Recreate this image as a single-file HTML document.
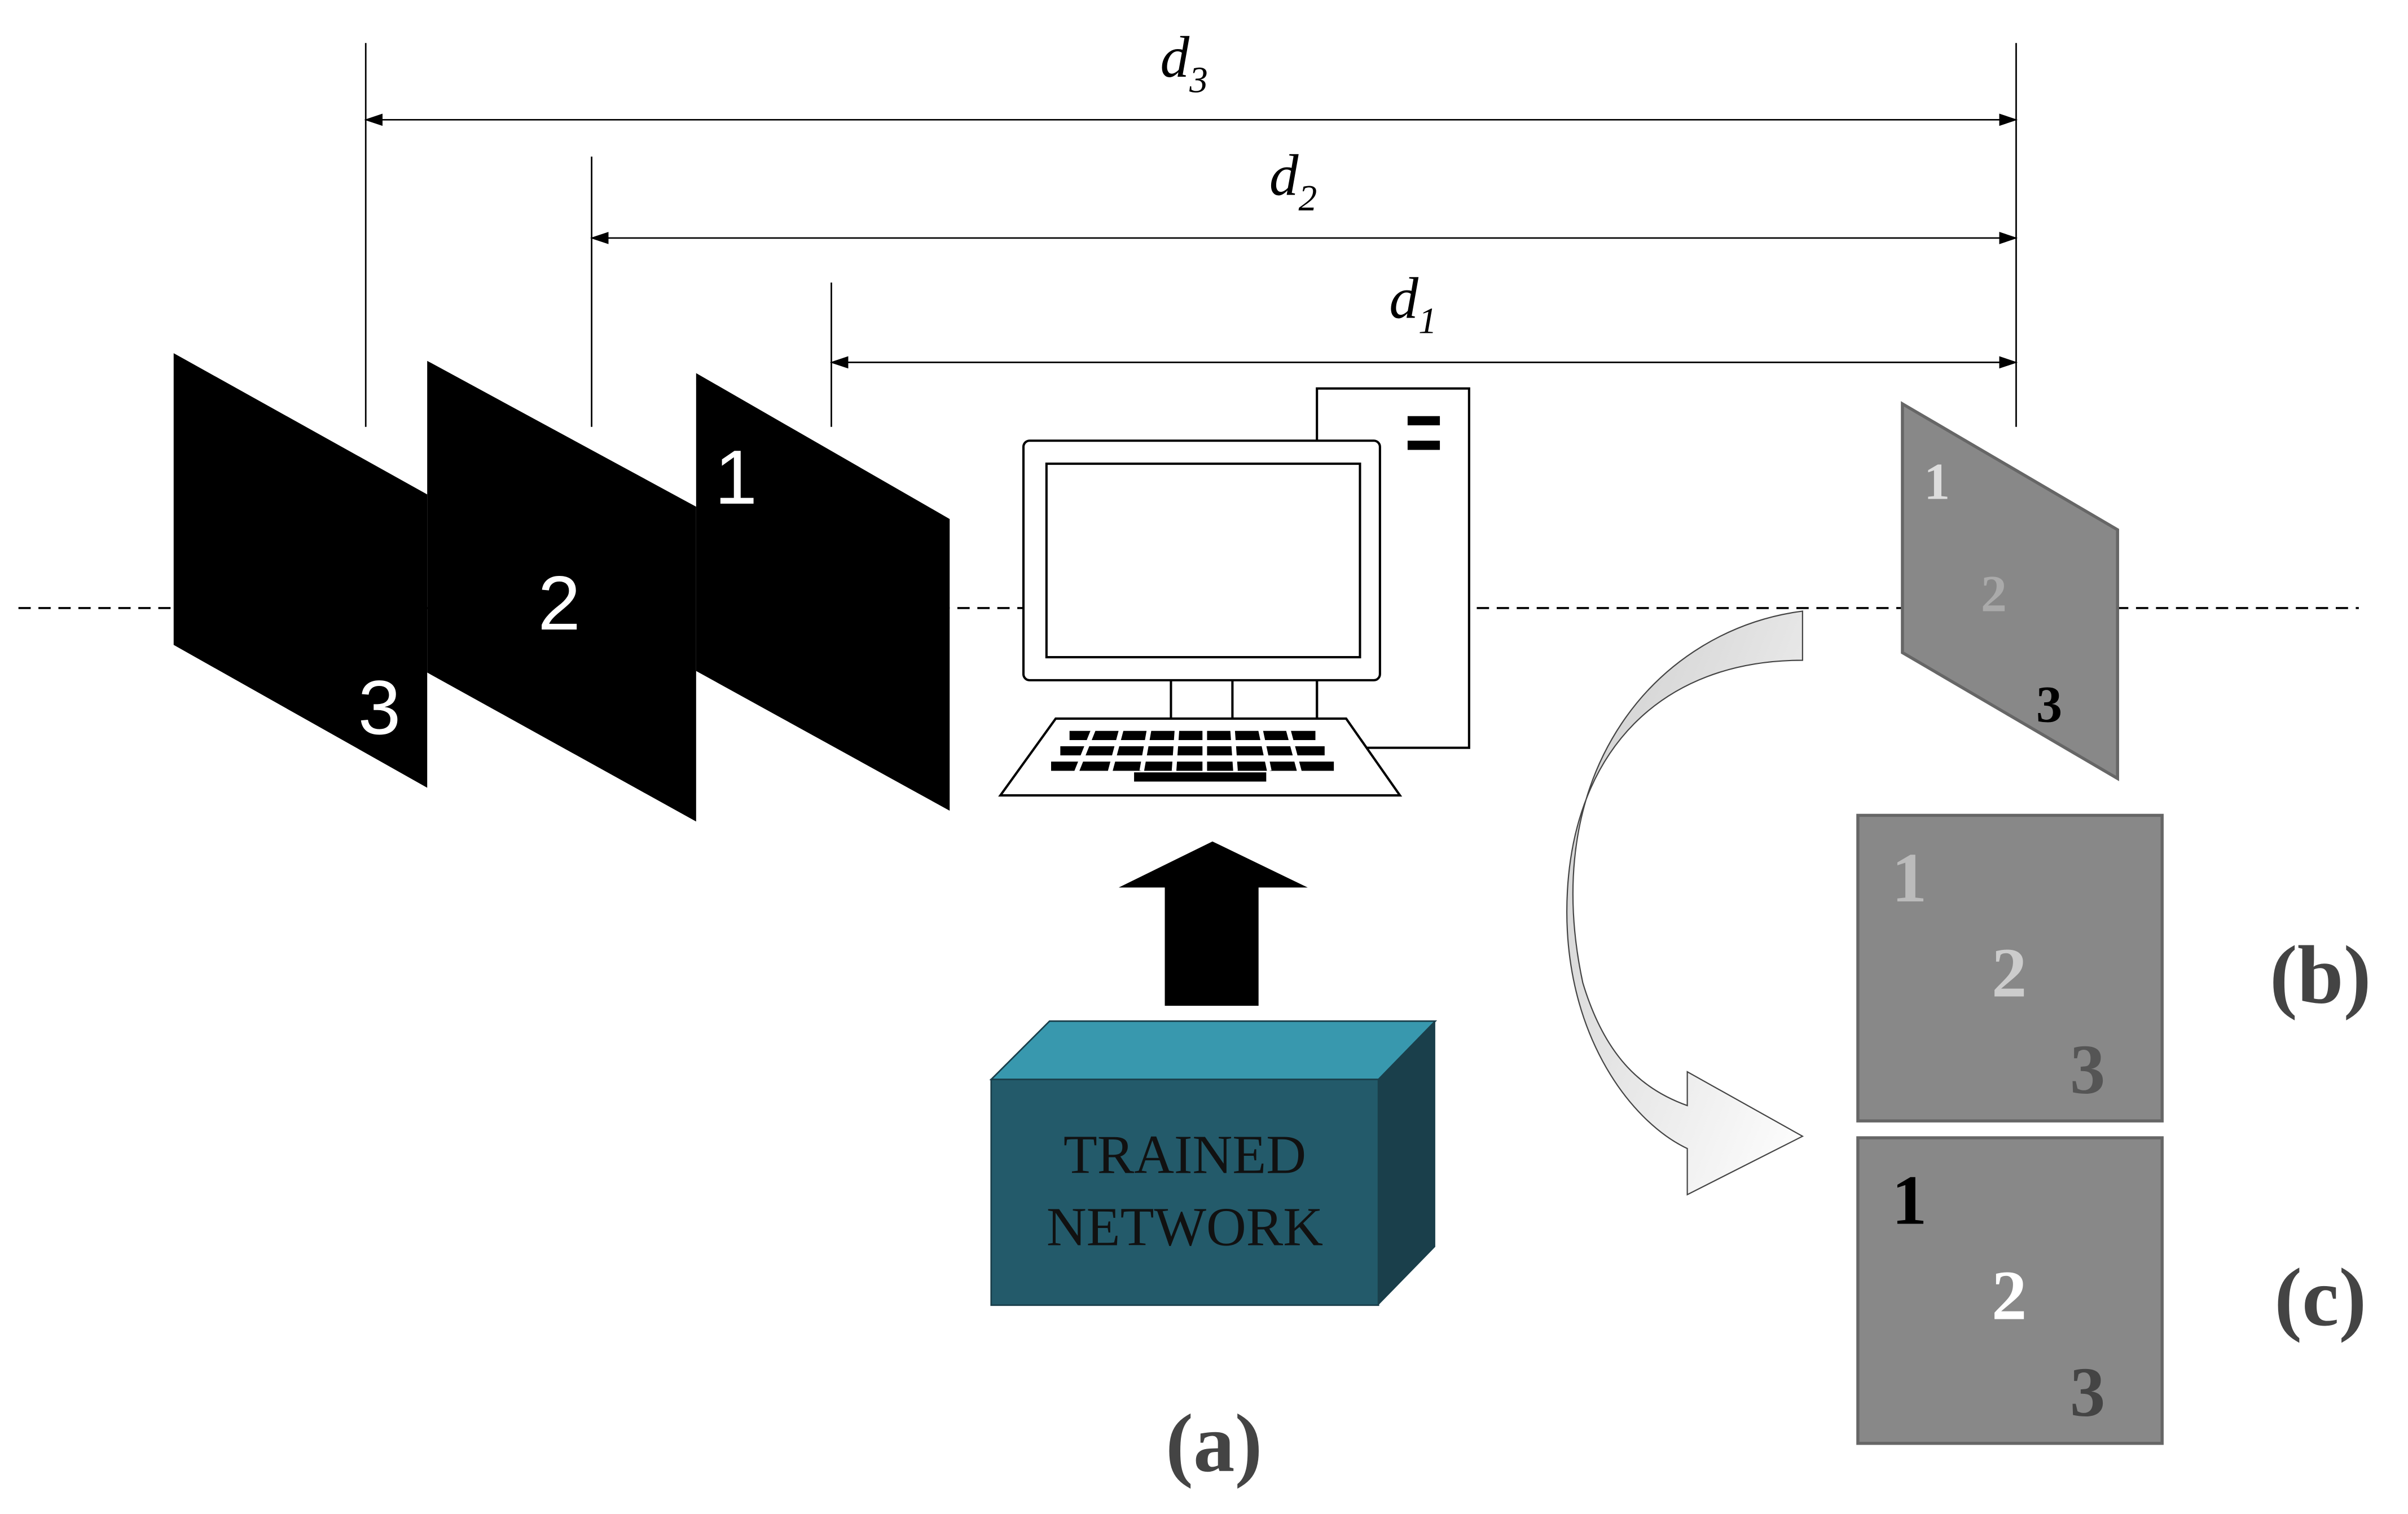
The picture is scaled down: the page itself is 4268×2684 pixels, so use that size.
<!DOCTYPE html>
<html><head><style>html,body{margin:0;padding:0;background:#fff}svg{display:block}</style></head>
<body>
<svg width="4268" height="2684" viewBox="0 0 1567 986" preserveAspectRatio="none" xmlns="http://www.w3.org/2000/svg">
<defs>
<marker id="ah" markerWidth="12" markerHeight="8" refX="11" refY="4" orient="auto-start-reverse" markerUnits="userSpaceOnUse">
<path d="M0,0 L12,4 L0,8 Z" fill="#000"/></marker>
<linearGradient id="cg" x1="0" y1="0" x2="1" y2="1"><stop offset="0" stop-color="#ccc"/><stop offset="1" stop-color="#fff"/></linearGradient>
</defs>
<line x1="12" y1="396" x2="1535" y2="396" stroke="#000" stroke-width="1.3" stroke-dasharray="8,5"/>
<g stroke="#000" stroke-width="1">
<line x1="238" y1="28" x2="238" y2="278"/><line x1="385" y1="102" x2="385" y2="278"/>
<line x1="541" y1="184" x2="541" y2="278"/><line x1="1312" y1="28" x2="1312" y2="278"/>
<line x1="238" y1="78" x2="1312" y2="78" marker-start="url(#ah)" marker-end="url(#ah)"/>
<line x1="385" y1="155" x2="1312" y2="155" marker-start="url(#ah)" marker-end="url(#ah)"/>
<line x1="541" y1="236" x2="1312" y2="236" marker-start="url(#ah)" marker-end="url(#ah)"/>
</g>
<g font-family="Liberation Serif" font-style="italic" font-size="38">
<text x="755" y="50">d<tspan font-size="24" dy="10">3</tspan></text>
<text x="826" y="127">d<tspan font-size="24" dy="10">2</tspan></text>
<text x="904" y="207">d<tspan font-size="24" dy="10">1</tspan></text>
</g>
<polygon points="113,230 278,322 278,513 113,420" fill="#000"/>
<polygon points="278,235 453,330 453,535 278,438" fill="#000"/>
<polygon points="453,243 618,338 618,528 453,437" fill="#000"/>
<g fill="#fff" font-family="Liberation Sans" font-size="50">
<text x="233" y="478">3</text>
<text x="350" y="410">2</text>
<text x="465" y="328">1</text>
</g>
<rect x="857" y="253" width="99" height="234" fill="#fff" stroke="#000" stroke-width="1.5"/>
<rect x="916" y="271" width="21" height="6" fill="#000"/><rect x="916" y="287" width="21" height="6" fill="#000"/>
<rect x="666" y="287" width="232" height="156" rx="4" fill="#fff" stroke="#000" stroke-width="1.5"/>
<rect x="681" y="302" width="204" height="126" fill="#fff" stroke="#000" stroke-width="1.5"/>
<g stroke="#000" stroke-width="1.5"><line x1="762" y1="443" x2="762" y2="468"/><line x1="802" y1="443" x2="802" y2="468"/><line x1="857" y1="443" x2="857" y2="468"/></g>
<polygon points="687,468 876,468 911,518 651,518" fill="#fff" stroke="#000" stroke-width="1.5"/>
<g fill="#000">
<rect x="696" y="476" width="160" height="6"/>
<rect x="690" y="486" width="172" height="6"/>
<rect x="684" y="496" width="184" height="6"/>
<rect x="738" y="503" width="86" height="6"/>
</g>
<g stroke="#fff" stroke-width="3"><line x1="712" y1="474" x2="700" y2="504"/><line x1="730" y1="474" x2="722" y2="504"/><line x1="748" y1="474" x2="743" y2="502"/><line x1="766" y1="474" x2="764" y2="502"/><line x1="784" y1="474" x2="784" y2="502"/><line x1="802" y1="474" x2="804" y2="502"/><line x1="820" y1="474" x2="826" y2="502"/><line x1="838" y1="474" x2="846" y2="504"/><line x1="680" y1="483.5" x2="880" y2="483.5"/><line x1="680" y1="493.5" x2="880" y2="493.5"/></g>
<polygon points="728,578 789,548 851,578 819,578 819,655 758,655 758,578" fill="#000"/>
<polygon points="645,703 683,665 934,665 897,703" fill="#3898ae" stroke="#1a3f4b"/>
<polygon points="897,703 934,665 934,812 897,850" fill="#1a3f4b"/>
<rect x="645" y="703" width="252" height="147" fill="#235a6a" stroke="#1a3f4b"/>
<g font-family="Liberation Serif" font-size="36" fill="#111" text-anchor="middle">
<text x="771" y="764">TRAINED</text><text x="771" y="811">NETWORK</text></g>
<text x="790" y="958" font-family="Liberation Serif" font-weight="bold" font-size="54" fill="#444" text-anchor="middle">(a)</text>
<polygon points="1238,263 1378,345 1378,507 1238,425" fill="#888" stroke="#666" stroke-width="2"/>
<g font-family="Liberation Serif" font-weight="bold" font-size="34">
<text x="1252" y="325" fill="#ddd">1</text><text x="1289" y="398" fill="#aaa">2</text><text x="1325" y="470" fill="#000">3</text></g>
<path d="M1173,398 C1080,410 1000,500 1030,640 C1045,690 1070,710 1098,720 L1098,698 L1173,740 L1098,778 L1098,748 C1060,730 1015,670 1020,580 C1025,490 1080,430 1173,430 Z" fill="url(#cg)" stroke="#444" stroke-width="0.8"/>
<rect x="1209" y="531" width="198" height="199" fill="#888" stroke="#666" stroke-width="2"/>
<rect x="1209" y="741" width="198" height="199" fill="#888" stroke="#666" stroke-width="2"/>
<g font-family="Liberation Serif" font-weight="bold" font-size="46">
<text x="1231" y="587" fill="#bbb">1</text><text x="1296" y="649" fill="#ccc">2</text><text x="1347" y="712" fill="#555">3</text>
<text x="1231" y="797" fill="#000">1</text><text x="1296" y="859" fill="#fff">2</text><text x="1347" y="922" fill="#444">3</text></g>
<g font-family="Liberation Serif" font-weight="bold" font-size="54" fill="#444" text-anchor="middle">
<text x="1510" y="653">(b)</text><text x="1510" y="863">(c)</text></g>
</svg>
</body></html>
